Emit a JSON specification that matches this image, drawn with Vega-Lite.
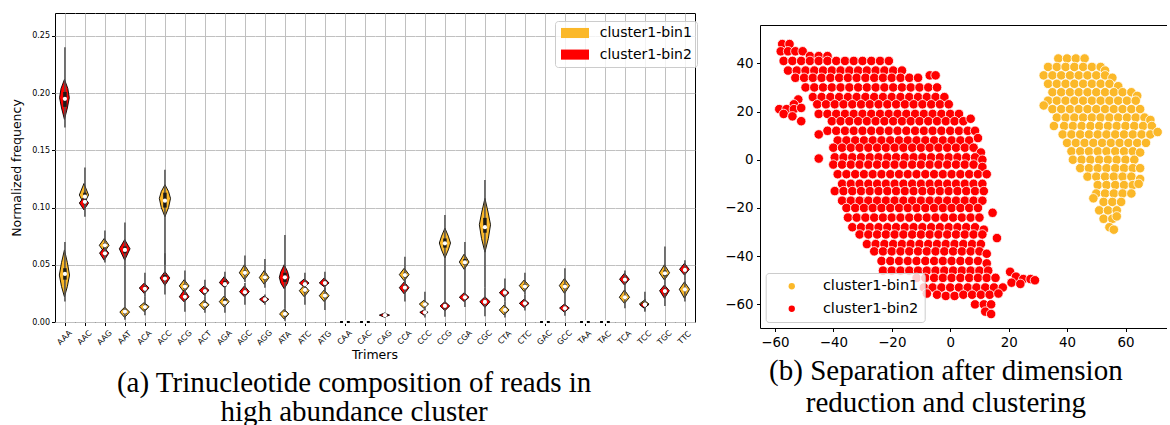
{
"$schema": "https://vega.github.io/schema/vega-lite/v6.json",
"padding": {"left": 10, "top": 13, "right": 0, "bottom": 0},
"config": {"view": {"stroke": null}, "font": "DejaVu Sans", "axis": {"labelFont": "DejaVu Sans", "titleFont": "DejaVu Sans", "domainWidth": 1, "tickWidth": 1, "gridWidth": 1}, "legend": {"labelFont": "DejaVu Sans"}},
"spacing": 26,
"resolve": {"scale": {"color": "independent"}, "legend": {"color": "independent"}},
"datasets": {
"vio": [
{"t":"AAA","c":"cluster1-bin2","v":0.177,"w":0},{"t":"AAA","c":"cluster1-bin2","v":0.187,"w":0.6},{"t":"AAA","c":"cluster1-bin2","v":0.196,"w":1.0},{"t":"AAA","c":"cluster1-bin2","v":0.204,"w":0.7},{"t":"AAA","c":"cluster1-bin2","v":0.212,"w":0},
{"t":"AAA","c":"cluster1-bin1","v":0.022,"w":0},{"t":"AAA","c":"cluster1-bin1","v":0.031,"w":0.6},{"t":"AAA","c":"cluster1-bin1","v":0.041,"w":1.05},{"t":"AAA","c":"cluster1-bin1","v":0.052,"w":0.6},{"t":"AAA","c":"cluster1-bin1","v":0.063,"w":0},
{"t":"AAC","c":"cluster1-bin1","v":0.103,"w":0},{"t":"AAC","c":"cluster1-bin1","v":0.111,"w":0.95},{"t":"AAC","c":"cluster1-bin1","v":0.121,"w":0},
{"t":"AAC","c":"cluster1-bin2","v":0.098,"w":0},{"t":"AAC","c":"cluster1-bin2","v":0.104,"w":0.95},{"t":"AAC","c":"cluster1-bin2","v":0.1092,"w":0},
{"t":"AAG","c":"cluster1-bin1","v":0.061,"w":0},{"t":"AAG","c":"cluster1-bin1","v":0.067,"w":1.0},{"t":"AAG","c":"cluster1-bin1","v":0.073,"w":0},
{"t":"AAG","c":"cluster1-bin2","v":0.054,"w":0},{"t":"AAG","c":"cluster1-bin2","v":0.0602,"w":0.95},{"t":"AAG","c":"cluster1-bin2","v":0.065,"w":0},
{"t":"AAT","c":"cluster1-bin2","v":0.054,"w":0},{"t":"AAT","c":"cluster1-bin2","v":0.064,"w":1.1},{"t":"AAT","c":"cluster1-bin2","v":0.072,"w":0},
{"t":"AAT","c":"cluster1-bin1","v":0.004,"w":0},{"t":"AAT","c":"cluster1-bin1","v":0.0087,"w":1.0},{"t":"AAT","c":"cluster1-bin1","v":0.013,"w":0},
{"t":"ACA","c":"cluster1-bin2","v":0.025,"w":0},{"t":"ACA","c":"cluster1-bin2","v":0.0297,"w":1.0},{"t":"ACA","c":"cluster1-bin2","v":0.034,"w":0},
{"t":"ACA","c":"cluster1-bin1","v":0.009,"w":0},{"t":"ACA","c":"cluster1-bin1","v":0.0134,"w":1.0},{"t":"ACA","c":"cluster1-bin1","v":0.017,"w":0},
{"t":"ACC","c":"cluster1-bin1","v":0.092,"w":0},{"t":"ACC","c":"cluster1-bin1","v":0.100,"w":0.75},{"t":"ACC","c":"cluster1-bin1","v":0.108,"w":1.15},{"t":"ACC","c":"cluster1-bin1","v":0.114,"w":0.75},{"t":"ACC","c":"cluster1-bin1","v":0.120,"w":0},
{"t":"ACC","c":"cluster1-bin2","v":0.032,"w":0},{"t":"ACC","c":"cluster1-bin2","v":0.0385,"w":1.0},{"t":"ACC","c":"cluster1-bin2","v":0.044,"w":0},
{"t":"ACG","c":"cluster1-bin1","v":0.026,"w":0},{"t":"ACG","c":"cluster1-bin1","v":0.0315,"w":1.0},{"t":"ACG","c":"cluster1-bin1","v":0.037,"w":0},
{"t":"ACG","c":"cluster1-bin2","v":0.0175,"w":0},{"t":"ACG","c":"cluster1-bin2","v":0.022,"w":1.0},{"t":"ACG","c":"cluster1-bin2","v":0.0282,"w":0},
{"t":"ACT","c":"cluster1-bin2","v":0.0236,"w":0},{"t":"ACT","c":"cluster1-bin2","v":0.0277,"w":1.0},{"t":"ACT","c":"cluster1-bin2","v":0.0315,"w":0},
{"t":"ACT","c":"cluster1-bin1","v":0.0105,"w":0},{"t":"ACT","c":"cluster1-bin1","v":0.0151,"w":1.0},{"t":"ACT","c":"cluster1-bin1","v":0.019,"w":0},
{"t":"AGA","c":"cluster1-bin2","v":0.0303,"w":0},{"t":"AGA","c":"cluster1-bin2","v":0.0344,"w":1.0},{"t":"AGA","c":"cluster1-bin2","v":0.0396,"w":0},
{"t":"AGA","c":"cluster1-bin1","v":0.013,"w":0},{"t":"AGA","c":"cluster1-bin1","v":0.0178,"w":1.0},{"t":"AGA","c":"cluster1-bin1","v":0.0227,"w":0},
{"t":"AGC","c":"cluster1-bin1","v":0.037,"w":0},{"t":"AGC","c":"cluster1-bin1","v":0.043,"w":1.05},{"t":"AGC","c":"cluster1-bin1","v":0.050,"w":0},
{"t":"AGC","c":"cluster1-bin2","v":0.022,"w":0},{"t":"AGC","c":"cluster1-bin2","v":0.0265,"w":1.0},{"t":"AGC","c":"cluster1-bin2","v":0.0315,"w":0},
{"t":"AGG","c":"cluster1-bin1","v":0.033,"w":0},{"t":"AGG","c":"cluster1-bin1","v":0.0388,"w":1.0},{"t":"AGG","c":"cluster1-bin1","v":0.045,"w":0},
{"t":"AGG","c":"cluster1-bin2","v":0.0166,"w":0},{"t":"AGG","c":"cluster1-bin2","v":0.0198,"w":0.95},{"t":"AGG","c":"cluster1-bin2","v":0.0227,"w":0},
{"t":"ATA","c":"cluster1-bin2","v":0.029,"w":0},{"t":"ATA","c":"cluster1-bin2","v":0.034,"w":0.7},{"t":"ATA","c":"cluster1-bin2","v":0.039,"w":1.0},{"t":"ATA","c":"cluster1-bin2","v":0.044,"w":0.7},{"t":"ATA","c":"cluster1-bin2","v":0.050,"w":0},
{"t":"ATA","c":"cluster1-bin1","v":0.0026,"w":0},{"t":"ATA","c":"cluster1-bin1","v":0.0071,"w":0.95},{"t":"ATA","c":"cluster1-bin1","v":0.011,"w":0},
{"t":"ATC","c":"cluster1-bin2","v":0.0306,"w":0},{"t":"ATC","c":"cluster1-bin2","v":0.034,"w":1.0},{"t":"ATC","c":"cluster1-bin2","v":0.0376,"w":0},
{"t":"ATC","c":"cluster1-bin1","v":0.022,"w":0},{"t":"ATC","c":"cluster1-bin1","v":0.0274,"w":1.0},{"t":"ATC","c":"cluster1-bin1","v":0.0321,"w":0},
{"t":"ATG","c":"cluster1-bin2","v":0.0307,"w":0},{"t":"ATG","c":"cluster1-bin2","v":0.0341,"w":1.0},{"t":"ATG","c":"cluster1-bin2","v":0.0385,"w":0},
{"t":"ATG","c":"cluster1-bin1","v":0.0178,"w":0},{"t":"ATG","c":"cluster1-bin1","v":0.023,"w":1.0},{"t":"ATG","c":"cluster1-bin1","v":0.028,"w":0},
{"t":"CAG","c":"cluster1-bin2","v":0.0042,"w":0},{"t":"CAG","c":"cluster1-bin2","v":0.006,"w":1.05},{"t":"CAG","c":"cluster1-bin2","v":0.0078,"w":0},
{"t":"CCA","c":"cluster1-bin1","v":0.036,"w":0},{"t":"CCA","c":"cluster1-bin1","v":0.0414,"w":1.0},{"t":"CCA","c":"cluster1-bin1","v":0.047,"w":0},
{"t":"CCA","c":"cluster1-bin2","v":0.0245,"w":0},{"t":"CCA","c":"cluster1-bin2","v":0.030,"w":1.0},{"t":"CCA","c":"cluster1-bin2","v":0.035,"w":0},
{"t":"CCC","c":"cluster1-bin1","v":0.012,"w":0},{"t":"CCC","c":"cluster1-bin1","v":0.0157,"w":0.95},{"t":"CCC","c":"cluster1-bin1","v":0.019,"w":0},
{"t":"CCC","c":"cluster1-bin2","v":0.006,"w":0},{"t":"CCC","c":"cluster1-bin2","v":0.0085,"w":0.85},{"t":"CCC","c":"cluster1-bin2","v":0.0105,"w":0},
{"t":"CCG","c":"cluster1-bin1","v":0.056,"w":0},{"t":"CCG","c":"cluster1-bin1","v":0.063,"w":0.7},{"t":"CCG","c":"cluster1-bin1","v":0.069,"w":1.15},{"t":"CCG","c":"cluster1-bin1","v":0.075,"w":0.7},{"t":"CCG","c":"cluster1-bin1","v":0.082,"w":0},
{"t":"CCG","c":"cluster1-bin2","v":0.0099,"w":0},{"t":"CCG","c":"cluster1-bin2","v":0.014,"w":1.0},{"t":"CCG","c":"cluster1-bin2","v":0.0178,"w":0},
{"t":"CGA","c":"cluster1-bin1","v":0.046,"w":0},{"t":"CGA","c":"cluster1-bin1","v":0.0524,"w":1.0},{"t":"CGA","c":"cluster1-bin1","v":0.0594,"w":0},
{"t":"CGA","c":"cluster1-bin2","v":0.0178,"w":0},{"t":"CGA","c":"cluster1-bin2","v":0.0216,"w":1.0},{"t":"CGA","c":"cluster1-bin2","v":0.0256,"w":0},
{"t":"CGC","c":"cluster1-bin1","v":0.061,"w":0},{"t":"CGC","c":"cluster1-bin1","v":0.073,"w":0.7},{"t":"CGC","c":"cluster1-bin1","v":0.085,"w":1.15},{"t":"CGC","c":"cluster1-bin1","v":0.096,"w":0.65},{"t":"CGC","c":"cluster1-bin1","v":0.108,"w":0},
{"t":"CGC","c":"cluster1-bin2","v":0.0128,"w":0},{"t":"CGC","c":"cluster1-bin2","v":0.0178,"w":1.05},{"t":"CGC","c":"cluster1-bin2","v":0.022,"w":0},
{"t":"CTA","c":"cluster1-bin2","v":0.0216,"w":0},{"t":"CTA","c":"cluster1-bin2","v":0.0256,"w":1.0},{"t":"CTA","c":"cluster1-bin2","v":0.0294,"w":0},
{"t":"CTA","c":"cluster1-bin1","v":0.0061,"w":0},{"t":"CTA","c":"cluster1-bin1","v":0.0105,"w":1.0},{"t":"CTA","c":"cluster1-bin1","v":0.0149,"w":0},
{"t":"CTC","c":"cluster1-bin1","v":0.0265,"w":0},{"t":"CTC","c":"cluster1-bin1","v":0.0318,"w":1.0},{"t":"CTC","c":"cluster1-bin1","v":0.0367,"w":0},
{"t":"CTC","c":"cluster1-bin2","v":0.0125,"w":0},{"t":"CTC","c":"cluster1-bin2","v":0.0163,"w":1.0},{"t":"CTC","c":"cluster1-bin2","v":0.020,"w":0},
{"t":"GCC","c":"cluster1-bin1","v":0.025,"w":0},{"t":"GCC","c":"cluster1-bin1","v":0.0318,"w":1.05},{"t":"GCC","c":"cluster1-bin1","v":0.038,"w":0},
{"t":"GCC","c":"cluster1-bin2","v":0.0085,"w":0},{"t":"GCC","c":"cluster1-bin2","v":0.0122,"w":1.0},{"t":"GCC","c":"cluster1-bin2","v":0.0157,"w":0},
{"t":"TCA","c":"cluster1-bin2","v":0.0323,"w":0},{"t":"TCA","c":"cluster1-bin2","v":0.0373,"w":1.0},{"t":"TCA","c":"cluster1-bin2","v":0.0426,"w":0},
{"t":"TCA","c":"cluster1-bin1","v":0.0163,"w":0},{"t":"TCA","c":"cluster1-bin1","v":0.0216,"w":1.05},{"t":"TCA","c":"cluster1-bin1","v":0.028,"w":0},
{"t":"TCC","c":"cluster1-bin1","v":0.012,"w":0},{"t":"TCC","c":"cluster1-bin1","v":0.0157,"w":1.0},{"t":"TCC","c":"cluster1-bin1","v":0.019,"w":0},
{"t":"TCC","c":"cluster1-bin2","v":0.0122,"w":0},{"t":"TCC","c":"cluster1-bin2","v":0.0149,"w":0.85},{"t":"TCC","c":"cluster1-bin2","v":0.0178,"w":0},
{"t":"TGC","c":"cluster1-bin1","v":0.0367,"w":0},{"t":"TGC","c":"cluster1-bin1","v":0.043,"w":1.05},{"t":"TGC","c":"cluster1-bin1","v":0.050,"w":0},
{"t":"TGC","c":"cluster1-bin2","v":0.0207,"w":0},{"t":"TGC","c":"cluster1-bin2","v":0.0274,"w":1.0},{"t":"TGC","c":"cluster1-bin2","v":0.0323,"w":0},
{"t":"TTC","c":"cluster1-bin2","v":0.041,"w":0},{"t":"TTC","c":"cluster1-bin2","v":0.046,"w":1.0},{"t":"TTC","c":"cluster1-bin2","v":0.0513,"w":0},
{"t":"TTC","c":"cluster1-bin1","v":0.0207,"w":0},{"t":"TTC","c":"cluster1-bin1","v":0.0286,"w":1.05},{"t":"TTC","c":"cluster1-bin1","v":0.035,"w":0},
{"t":"AAA","c":"cluster1-bin2","lo":0.170,"q1":0.188,"med":0.195,"q3":0.201,"hi":0.240},
{"t":"AAA","c":"cluster1-bin1","lo":0.018,"q1":0.037,"med":0.042,"q3":0.047,"hi":0.070},
{"t":"AAC","c":"cluster1-bin1","lo":0.100,"q1":0.107,"med":0.1095,"q3":0.113,"hi":0.135},
{"t":"AAC","c":"cluster1-bin2","lo":0.092,"q1":0.103,"med":0.105,"q3":0.107,"hi":0.115},
{"t":"AAG","c":"cluster1-bin1","lo":0.058,"q1":0.065,"med":0.067,"q3":0.069,"hi":0.080},
{"t":"AAG","c":"cluster1-bin2","lo":0.052,"q1":0.058,"med":0.060,"q3":0.062,"hi":0.066},
{"t":"AAT","c":"cluster1-bin2","lo":0.020,"q1":0.060,"med":0.063,"q3":0.066,"hi":0.087},
{"t":"AAT","c":"cluster1-bin1","lo":0.002,"q1":0.007,"med":0.009,"q3":0.011,"hi":0.020},
{"t":"ACA","c":"cluster1-bin2","lo":0.022,"q1":0.027,"med":0.029,"q3":0.031,"hi":0.043},
{"t":"ACA","c":"cluster1-bin1","lo":0.006,"q1":0.011,"med":0.013,"q3":0.015,"hi":0.022},
{"t":"ACC","c":"cluster1-bin1","lo":0.050,"q1":0.100,"med":0.106,"q3":0.113,"hi":0.133},
{"t":"ACC","c":"cluster1-bin2","lo":0.024,"q1":0.036,"med":0.038,"q3":0.041,"hi":0.060},
{"t":"ACG","c":"cluster1-bin1","lo":0.024,"q1":0.029,"med":0.031,"q3":0.033,"hi":0.045},
{"t":"ACG","c":"cluster1-bin2","lo":0.009,"q1":0.020,"med":0.022,"q3":0.024,"hi":0.028},
{"t":"ACT","c":"cluster1-bin2","lo":0.022,"q1":0.025,"med":0.027,"q3":0.029,"hi":0.037},
{"t":"ACT","c":"cluster1-bin1","lo":0.008,"q1":0.013,"med":0.015,"q3":0.017,"hi":0.022},
{"t":"AGA","c":"cluster1-bin2","lo":0.028,"q1":0.031,"med":0.033,"q3":0.036,"hi":0.044},
{"t":"AGA","c":"cluster1-bin1","lo":0.008,"q1":0.015,"med":0.017,"q3":0.020,"hi":0.028},
{"t":"AGC","c":"cluster1-bin1","lo":0.035,"q1":0.041,"med":0.043,"q3":0.045,"hi":0.058},
{"t":"AGC","c":"cluster1-bin2","lo":0.015,"q1":0.024,"med":0.026,"q3":0.028,"hi":0.034},
{"t":"AGG","c":"cluster1-bin1","lo":0.030,"q1":0.037,"med":0.039,"q3":0.041,"hi":0.055},
{"t":"AGG","c":"cluster1-bin2","lo":0.015,"q1":0.018,"med":0.0198,"q3":0.021,"hi":0.024},
{"t":"ATA","c":"cluster1-bin2","lo":0.012,"q1":0.035,"med":0.039,"q3":0.043,"hi":0.076},
{"t":"ATA","c":"cluster1-bin1","lo":0.001,"q1":0.005,"med":0.007,"q3":0.009,"hi":0.012},
{"t":"ATC","c":"cluster1-bin2","lo":0.028,"q1":0.032,"med":0.033,"q3":0.035,"hi":0.043},
{"t":"ATC","c":"cluster1-bin1","lo":0.015,"q1":0.026,"med":0.028,"q3":0.030,"hi":0.036},
{"t":"ATG","c":"cluster1-bin2","lo":0.028,"q1":0.032,"med":0.034,"q3":0.036,"hi":0.044},
{"t":"ATG","c":"cluster1-bin1","lo":0.0105,"q1":0.021,"med":0.023,"q3":0.025,"hi":0.030},
{"t":"CAG","c":"cluster1-bin2","lo":0.004,"q1":0.0055,"med":0.006,"q3":0.0065,"hi":0.008},
{"t":"CCA","c":"cluster1-bin1","lo":0.033,"q1":0.039,"med":0.041,"q3":0.043,"hi":0.057},
{"t":"CCA","c":"cluster1-bin2","lo":0.018,"q1":0.028,"med":0.030,"q3":0.032,"hi":0.036},
{"t":"CCC","c":"cluster1-bin1","lo":0.010,"q1":0.014,"med":0.0155,"q3":0.017,"hi":0.0265},
{"t":"CCC","c":"cluster1-bin2","lo":0.004,"q1":0.0075,"med":0.0085,"q3":0.0095,"hi":0.011},
{"t":"CCG","c":"cluster1-bin1","lo":0.020,"q1":0.065,"med":0.0688,"q3":0.073,"hi":0.0935},
{"t":"CCG","c":"cluster1-bin2","lo":0.0046,"q1":0.012,"med":0.014,"q3":0.016,"hi":0.020},
{"t":"CGA","c":"cluster1-bin1","lo":0.026,"q1":0.050,"med":0.052,"q3":0.055,"hi":0.070},
{"t":"CGA","c":"cluster1-bin2","lo":0.013,"q1":0.020,"med":0.0216,"q3":0.023,"hi":0.026},
{"t":"CGC","c":"cluster1-bin1","lo":0.030,"q1":0.078,"med":0.0828,"q3":0.091,"hi":0.124},
{"t":"CGC","c":"cluster1-bin2","lo":0.005,"q1":0.016,"med":0.0175,"q3":0.019,"hi":0.030},
{"t":"CTA","c":"cluster1-bin2","lo":0.018,"q1":0.024,"med":0.0256,"q3":0.027,"hi":0.038},
{"t":"CTA","c":"cluster1-bin1","lo":0.004,"q1":0.009,"med":0.0105,"q3":0.012,"hi":0.018},
{"t":"CTC","c":"cluster1-bin1","lo":0.024,"q1":0.029,"med":0.031,"q3":0.033,"hi":0.043},
{"t":"CTC","c":"cluster1-bin2","lo":0.010,"q1":0.015,"med":0.0163,"q3":0.018,"hi":0.024},
{"t":"GCC","c":"cluster1-bin1","lo":0.020,"q1":0.029,"med":0.031,"q3":0.033,"hi":0.047},
{"t":"GCC","c":"cluster1-bin2","lo":0.0055,"q1":0.011,"med":0.012,"q3":0.013,"hi":0.020},
{"t":"TCA","c":"cluster1-bin2","lo":0.028,"q1":0.035,"med":0.037,"q3":0.039,"hi":0.045},
{"t":"TCA","c":"cluster1-bin1","lo":0.012,"q1":0.020,"med":0.0216,"q3":0.023,"hi":0.028},
{"t":"TCC","c":"cluster1-bin1","lo":0.009,"q1":0.014,"med":0.0152,"q3":0.017,"hi":0.0265},
{"t":"TCC","c":"cluster1-bin2","lo":0.010,"q1":0.014,"med":0.0152,"q3":0.016,"hi":0.020},
{"t":"TGC","c":"cluster1-bin1","lo":0.030,"q1":0.040,"med":0.0425,"q3":0.045,"hi":0.066},
{"t":"TGC","c":"cluster1-bin2","lo":0.014,"q1":0.025,"med":0.027,"q3":0.029,"hi":0.030},
{"t":"TTC","c":"cluster1-bin2","lo":0.036,"q1":0.044,"med":0.0455,"q3":0.047,"hi":0.054},
{"t":"TTC","c":"cluster1-bin1","lo":0.018,"q1":0.027,"med":0.0285,"q3":0.030,"hi":0.036},
{"t":"CAA","f":0,"med":0},{"t":"CAC","f":0,"med":0},{"t":"GAC","f":0,"med":0},{"t":"TAA","f":0,"med":0},{"t":"TAC","f":0,"med":0}
],
"r2": [
{"x":-57.5,"y":48},{"x":-55,"y":48},
{"x":-58,"y":45},{"x":-55.5,"y":45},{"x":-53,"y":45},{"x":-50.5,"y":45},
{"x":-48,"y":43},{"x":-45,"y":43},{"x":-42,"y":43},
{"x":-57,"y":41},{"x":-54,"y":41},{"x":-51,"y":41},{"x":-48,"y":41},{"x":-45,"y":41},{"x":-42,"y":41},{"x":-39,"y":41},{"x":-36,"y":41},{"x":-33,"y":41},{"x":-30,"y":41},{"x":-27,"y":41},{"x":-24,"y":41},{"x":-21,"y":41},
{"x":-55.5,"y":37},{"x":-52.5,"y":37},{"x":-49.5,"y":37},{"x":-46.5,"y":37},{"x":-43.5,"y":37},{"x":-40.5,"y":37},{"x":-37.5,"y":37},{"x":-34.5,"y":37},{"x":-31.5,"y":37},{"x":-28.5,"y":37},{"x":-25.5,"y":37},{"x":-22.5,"y":37},{"x":-19.5,"y":37},{"x":-16.5,"y":37},{"x":-7,"y":35},{"x":-5,"y":35},
{"x":-53,"y":34},{"x":-50,"y":34},{"x":-47,"y":34},{"x":-44,"y":34},{"x":-41,"y":34},{"x":-38,"y":34},{"x":-35,"y":34},{"x":-32,"y":34},{"x":-29,"y":34},{"x":-26,"y":34},{"x":-23,"y":34},{"x":-20,"y":34},{"x":-17,"y":34},{"x":-14,"y":34},{"x":-11,"y":34},
{"x":-49.5,"y":30},{"x":-46.5,"y":30},{"x":-43.5,"y":30},{"x":-40.5,"y":30},{"x":-37.5,"y":30},{"x":-34.5,"y":30},{"x":-31.5,"y":30},{"x":-28.5,"y":30},{"x":-25.5,"y":30},{"x":-22.5,"y":30},{"x":-19.5,"y":30},{"x":-16.5,"y":30},{"x":-13.5,"y":30},{"x":-10.5,"y":30},{"x":-7.5,"y":30},{"x":-4.5,"y":30},
{"x":-52,"y":25},{"x":-47,"y":26},{"x":-44,"y":26},{"x":-41,"y":26},{"x":-38,"y":26},{"x":-35,"y":26},{"x":-32,"y":26},{"x":-29,"y":26},{"x":-26,"y":26},{"x":-23,"y":26},{"x":-20,"y":26},{"x":-17,"y":26},{"x":-14,"y":26},{"x":-11,"y":26},{"x":-8,"y":26},{"x":-5,"y":26},{"x":-2,"y":26},
{"x":-53.5,"y":23},{"x":-45.5,"y":23},{"x":-42.5,"y":23},{"x":-39.5,"y":23},{"x":-36.5,"y":23},{"x":-33.5,"y":23},{"x":-30.5,"y":23},{"x":-27.5,"y":23},{"x":-24.5,"y":23},{"x":-21.5,"y":23},{"x":-18.5,"y":23},{"x":-15.5,"y":23},{"x":-12.5,"y":23},{"x":-9.5,"y":23},{"x":-6.5,"y":23},{"x":-3.5,"y":23},{"x":-0.5,"y":23},
{"x":-58.5,"y":21},{"x":-56,"y":21},{"x":-53.5,"y":21},{"x":-51,"y":21.5},
{"x":-57,"y":19},{"x":-54,"y":18},{"x":-45,"y":19},{"x":-42,"y":19},{"x":-39,"y":19},{"x":-36,"y":19},{"x":-33,"y":19},{"x":-30,"y":19},{"x":-27,"y":19},{"x":-24,"y":19},{"x":-21,"y":19},{"x":-18,"y":19},{"x":-15,"y":19},{"x":-12,"y":19},{"x":-9,"y":19},{"x":-6,"y":19},{"x":-3,"y":19},{"x":0,"y":19},{"x":3,"y":19},
{"x":-51,"y":16},{"x":-40.5,"y":16},{"x":-37.5,"y":16},{"x":-34.5,"y":16},{"x":-31.5,"y":16},{"x":-28.5,"y":16},{"x":-25.5,"y":16},{"x":-22.5,"y":16},{"x":-19.5,"y":16},{"x":-16.5,"y":16},{"x":-13.5,"y":16},{"x":-10.5,"y":16},{"x":-7.5,"y":16},{"x":-4.5,"y":16},{"x":-1.5,"y":16},{"x":1.5,"y":16},{"x":4.5,"y":16},{"x":7,"y":17},
{"x":-42,"y":12},{"x":-39,"y":12},{"x":-36,"y":12},{"x":-33,"y":12},{"x":-30,"y":12},{"x":-27,"y":12},{"x":-24,"y":12},{"x":-21,"y":12},{"x":-18,"y":12},{"x":-15,"y":12},{"x":-12,"y":12},{"x":-9,"y":12},{"x":-6,"y":12},{"x":-3,"y":12},{"x":0,"y":12},{"x":3,"y":12},{"x":6,"y":12},{"x":8.5,"y":12},
{"x":-45,"y":10.5},
{"x":-38.5,"y":8},{"x":-35.5,"y":8},{"x":-32.5,"y":8},{"x":-29.5,"y":8},{"x":-26.5,"y":8},{"x":-23.5,"y":8},{"x":-20.5,"y":8},{"x":-17.5,"y":8},{"x":-14.5,"y":8},{"x":-11.5,"y":8},{"x":-8.5,"y":8},{"x":-5.5,"y":8},{"x":-2.5,"y":8},{"x":0.5,"y":8},{"x":3.5,"y":8},{"x":6.5,"y":8},{"x":9.5,"y":9},
{"x":-40,"y":5},{"x":-37,"y":5},{"x":-34,"y":5},{"x":-31,"y":5},{"x":-28,"y":5},{"x":-25,"y":5},{"x":-22,"y":5},{"x":-19,"y":5},{"x":-16,"y":5},{"x":-13,"y":5},{"x":-10,"y":5},{"x":-7,"y":5},{"x":-4,"y":5},{"x":-1,"y":5},{"x":2,"y":5},{"x":5,"y":5},{"x":8,"y":5},{"x":10.5,"y":3},
{"x":-45,"y":0.5},{"x":-39.5,"y":1},{"x":-36.5,"y":1},{"x":-33.5,"y":1},{"x":-30.5,"y":1},{"x":-27.5,"y":1},{"x":-24.5,"y":1},{"x":-21.5,"y":1},{"x":-18.5,"y":1},{"x":-15.5,"y":1},{"x":-12.5,"y":1},{"x":-9.5,"y":1},{"x":-6.5,"y":1},{"x":-3.5,"y":1},{"x":-0.5,"y":1},{"x":2.5,"y":1},{"x":5.5,"y":1},{"x":8.5,"y":1},{"x":11,"y":0},
{"x":-40,"y":-2},{"x":-37,"y":-2},{"x":-34,"y":-2},{"x":-31,"y":-2},{"x":-28,"y":-2},{"x":-25,"y":-2},{"x":-22,"y":-2},{"x":-19,"y":-2},{"x":-16,"y":-2},{"x":-13,"y":-2},{"x":-10,"y":-2},{"x":-7,"y":-2},{"x":-4,"y":-2},{"x":-1,"y":-2},{"x":2,"y":-2},{"x":5,"y":-2},{"x":8,"y":-2},{"x":11,"y":-3},
{"x":-38.5,"y":-6},{"x":-35.5,"y":-6},{"x":-32.5,"y":-6},{"x":-29.5,"y":-6},{"x":-26.5,"y":-6},{"x":-23.5,"y":-6},{"x":-20.5,"y":-6},{"x":-17.5,"y":-6},{"x":-14.5,"y":-6},{"x":-11.5,"y":-6},{"x":-8.5,"y":-6},{"x":-5.5,"y":-6},{"x":-2.5,"y":-6},{"x":0.5,"y":-6},{"x":3.5,"y":-6},{"x":6.5,"y":-6},{"x":9.5,"y":-6},{"x":12.5,"y":-6},
{"x":-37,"y":-10},{"x":-34,"y":-10},{"x":-31,"y":-10},{"x":-28,"y":-10},{"x":-25,"y":-10},{"x":-22,"y":-10},{"x":-19,"y":-10},{"x":-16,"y":-10},{"x":-13,"y":-10},{"x":-10,"y":-10},{"x":-7,"y":-10},{"x":-4,"y":-10},{"x":-1,"y":-10},{"x":2,"y":-10},{"x":5,"y":-10},{"x":8,"y":-10},{"x":11,"y":-10},
{"x":-39.5,"y":-13},{"x":-36.5,"y":-13},{"x":-33.5,"y":-13},{"x":-30.5,"y":-13},{"x":-27.5,"y":-13},{"x":-24.5,"y":-13},{"x":-21.5,"y":-13},{"x":-18.5,"y":-13},{"x":-15.5,"y":-13},{"x":-12.5,"y":-13},{"x":-9.5,"y":-13},{"x":-6.5,"y":-13},{"x":-3.5,"y":-13},{"x":-0.5,"y":-13},{"x":2.5,"y":-13},{"x":5.5,"y":-13},{"x":8.5,"y":-13},{"x":11.5,"y":-13},
{"x":-37,"y":-17},{"x":-34,"y":-17},{"x":-31,"y":-17},{"x":-28,"y":-17},{"x":-25,"y":-17},{"x":-22,"y":-17},{"x":-19,"y":-17},{"x":-16,"y":-17},{"x":-13,"y":-17},{"x":-10,"y":-17},{"x":-7,"y":-17},{"x":-4,"y":-17},{"x":-1,"y":-17},{"x":2,"y":-17},{"x":5,"y":-17},{"x":8,"y":-17},{"x":11,"y":-17},
{"x":-35.5,"y":-20},{"x":-32.5,"y":-20},{"x":-29.5,"y":-20},{"x":-26.5,"y":-20},{"x":-23.5,"y":-20},{"x":-20.5,"y":-20},{"x":-17.5,"y":-20},{"x":-14.5,"y":-20},{"x":-11.5,"y":-20},{"x":-8.5,"y":-20},{"x":-5.5,"y":-20},{"x":-2.5,"y":-20},{"x":0.5,"y":-20},{"x":3.5,"y":-20},{"x":6.5,"y":-20},{"x":9.5,"y":-20},{"x":14.5,"y":-22},
{"x":-35,"y":-24},{"x":-32,"y":-24},{"x":-29,"y":-24},{"x":-26,"y":-24},{"x":-23,"y":-24},{"x":-20,"y":-24},{"x":-17,"y":-24},{"x":-14,"y":-24},{"x":-11,"y":-24},{"x":-8,"y":-24},{"x":-5,"y":-24},{"x":-2,"y":-24},{"x":1,"y":-24},{"x":4,"y":-24},{"x":7,"y":-24},{"x":10,"y":-24},
{"x":-33.5,"y":-28},{"x":-30.5,"y":-28},{"x":-27.5,"y":-28},{"x":-24.5,"y":-28},{"x":-21.5,"y":-28},{"x":-18.5,"y":-28},{"x":-15.5,"y":-28},{"x":-12.5,"y":-28},{"x":-9.5,"y":-28},{"x":-6.5,"y":-28},{"x":-3.5,"y":-28},{"x":-0.5,"y":-28},{"x":2.5,"y":-28},{"x":5.5,"y":-28},{"x":8.5,"y":-28},{"x":11.5,"y":-29},
{"x":-31,"y":-31},{"x":-28,"y":-31},{"x":-25,"y":-31},{"x":-22,"y":-31},{"x":-19,"y":-31},{"x":-16,"y":-31},{"x":-13,"y":-31},{"x":-10,"y":-31},{"x":-7,"y":-31},{"x":-4,"y":-31},{"x":-1,"y":-31},{"x":2,"y":-31},{"x":5,"y":-31},{"x":8,"y":-31},{"x":11,"y":-31},{"x":16,"y":-32.5},
{"x":-28.5,"y":-35},{"x":-25.5,"y":-35},{"x":-22.5,"y":-35},{"x":-19.5,"y":-35},{"x":-16.5,"y":-35},{"x":-13.5,"y":-35},{"x":-10.5,"y":-35},{"x":-7.5,"y":-35},{"x":-4.5,"y":-35},{"x":-1.5,"y":-35},{"x":1.5,"y":-35},{"x":4.5,"y":-35},{"x":7.5,"y":-35},{"x":10.5,"y":-35},
{"x":-26,"y":-38},{"x":-23,"y":-38},{"x":-20,"y":-38},{"x":-17,"y":-38},{"x":-14,"y":-38},{"x":-11,"y":-38},{"x":-8,"y":-38},{"x":-5,"y":-38},{"x":-2,"y":-38},{"x":1,"y":-38},{"x":4,"y":-38},{"x":7,"y":-38},{"x":10,"y":-38},{"x":12.5,"y":-39},
{"x":-23.5,"y":-42},{"x":-20.5,"y":-42},{"x":-17.5,"y":-42},{"x":-14.5,"y":-42},{"x":-11.5,"y":-42},{"x":-8.5,"y":-42},{"x":-5.5,"y":-42},{"x":-2.5,"y":-42},{"x":0.5,"y":-42},{"x":3.5,"y":-42},{"x":6.5,"y":-42},{"x":9.5,"y":-42},{"x":12.5,"y":-43},
{"x":-23,"y":-46},{"x":-20,"y":-46},{"x":-17,"y":-46},{"x":-14,"y":-46},{"x":-11,"y":-46},{"x":-8,"y":-46},{"x":-5,"y":-46},{"x":-2,"y":-46},{"x":1,"y":-46},{"x":4,"y":-46},{"x":7,"y":-46},{"x":10,"y":-46},{"x":13,"y":-46},{"x":20.5,"y":-46.5},
{"x":-11.5,"y":-49},{"x":-8.5,"y":-49},{"x":-5.5,"y":-49},{"x":-2.5,"y":-49},{"x":0.5,"y":-49},{"x":3.5,"y":-49},{"x":6.5,"y":-49},{"x":9.5,"y":-49},{"x":12.5,"y":-49},{"x":15.5,"y":-49},{"x":22.5,"y":-48.5},{"x":25,"y":-49.5},{"x":27.5,"y":-49.5},
{"x":21,"y":-51},{"x":24,"y":-51.5},{"x":29,"y":-50},
{"x":-9,"y":-53},{"x":-6,"y":-53},{"x":-3,"y":-53},{"x":0,"y":-53},{"x":3,"y":-53},{"x":6,"y":-53},{"x":9,"y":-53},{"x":12,"y":-53},{"x":15,"y":-53},{"x":18,"y":-53},
{"x":-8,"y":-55.5},{"x":-4.5,"y":-56},{"x":-1.5,"y":-56.5},{"x":1.5,"y":-56.5},{"x":4.5,"y":-56},{"x":7.5,"y":-56},{"x":10.5,"y":-56},{"x":13.5,"y":-56},{"x":16.5,"y":-55.5},
{"x":8.5,"y":-60},{"x":11.5,"y":-60},{"x":14,"y":-60},
{"x":12,"y":-63},{"x":14,"y":-64}
],
"r1": [
{"x":37,"y":42},{"x":40,"y":42},{"x":43,"y":42},{"x":46,"y":42},
{"x":33.5,"y":38.5},{"x":36.5,"y":38.5},{"x":39.5,"y":38.5},{"x":42.5,"y":38.5},{"x":45.5,"y":38.5},{"x":48.5,"y":38.5},{"x":51.5,"y":38.5},{"x":53,"y":37},
{"x":32,"y":35},{"x":35,"y":35},{"x":38,"y":35},{"x":41,"y":35},{"x":44,"y":35},{"x":47,"y":35},{"x":50,"y":35},{"x":53,"y":35},{"x":55.5,"y":34},
{"x":33.5,"y":31.5},{"x":36.5,"y":31.5},{"x":39.5,"y":31.5},{"x":42.5,"y":31.5},{"x":45.5,"y":31.5},{"x":48.5,"y":31.5},{"x":51.5,"y":31.5},{"x":54.5,"y":31.5},{"x":57.5,"y":30.5},
{"x":35,"y":28},{"x":38,"y":28},{"x":41,"y":28},{"x":44,"y":28},{"x":47,"y":28},{"x":50,"y":28},{"x":53,"y":28},{"x":56,"y":28},{"x":59,"y":28},{"x":62,"y":28},{"x":64,"y":26.5},
{"x":33.5,"y":24.5},{"x":36.5,"y":24.5},{"x":39.5,"y":24.5},{"x":42.5,"y":24.5},{"x":45.5,"y":24.5},{"x":48.5,"y":24.5},{"x":51.5,"y":24.5},{"x":54.5,"y":24.5},{"x":57.5,"y":24.5},{"x":60.5,"y":24.5},{"x":63.5,"y":24.5},{"x":32,"y":22.5},
{"x":35,"y":21},{"x":38,"y":21},{"x":41,"y":21},{"x":44,"y":21},{"x":47,"y":21},{"x":50,"y":21},{"x":53,"y":21},{"x":56,"y":21},{"x":59,"y":21},{"x":62,"y":21},{"x":65,"y":21},
{"x":36.5,"y":17.5},{"x":39.5,"y":17.5},{"x":42.5,"y":17.5},{"x":45.5,"y":17.5},{"x":48.5,"y":17.5},{"x":51.5,"y":17.5},{"x":54.5,"y":17.5},{"x":57.5,"y":17.5},{"x":60.5,"y":17.5},{"x":63.5,"y":17.5},{"x":66.5,"y":17.5},{"x":68.5,"y":16.5},
{"x":35.5,"y":14},{"x":39,"y":14},{"x":42,"y":14},{"x":45,"y":14},{"x":48,"y":14},{"x":51,"y":14},{"x":54,"y":14},{"x":57,"y":14},{"x":60,"y":14},{"x":63,"y":14},{"x":66,"y":14},{"x":69,"y":14},
{"x":38.5,"y":10.5},{"x":41.5,"y":10.5},{"x":44.5,"y":10.5},{"x":47.5,"y":10.5},{"x":50.5,"y":10.5},{"x":53.5,"y":10.5},{"x":56.5,"y":10.5},{"x":59.5,"y":10.5},{"x":62.5,"y":10.5},{"x":65.5,"y":10.5},{"x":68.5,"y":10.5},{"x":71,"y":11.5},
{"x":40,"y":7},{"x":43,"y":7},{"x":46,"y":7},{"x":49,"y":7},{"x":52,"y":7},{"x":55,"y":7},{"x":58,"y":7},{"x":61,"y":7},{"x":64,"y":7},{"x":67,"y":7},
{"x":41.5,"y":3.5},{"x":44.5,"y":3.5},{"x":47.5,"y":3.5},{"x":50.5,"y":3.5},{"x":53.5,"y":3.5},{"x":56.5,"y":3.5},{"x":59.5,"y":3.5},{"x":62.5,"y":3.5},{"x":65,"y":3},
{"x":42,"y":0},{"x":45,"y":0},{"x":48,"y":0},{"x":51,"y":0},{"x":54,"y":0},{"x":57,"y":0},{"x":60,"y":0},{"x":63,"y":0},
{"x":44.5,"y":-3.5},{"x":47.5,"y":-3.5},{"x":50.5,"y":-3.5},{"x":53.5,"y":-3.5},{"x":56.5,"y":-3.5},{"x":59.5,"y":-3.5},{"x":62.5,"y":-3.5},{"x":65,"y":-3.5},
{"x":47,"y":-7},{"x":50,"y":-7},{"x":53,"y":-7},{"x":56,"y":-7},{"x":59,"y":-7},{"x":62,"y":-7},{"x":65,"y":-8},
{"x":50.5,"y":-10.5},{"x":53.5,"y":-10.5},{"x":56.5,"y":-10.5},{"x":59.5,"y":-10.5},{"x":62.5,"y":-10.5},{"x":64.5,"y":-10},
{"x":50,"y":-14},{"x":53,"y":-14},{"x":56,"y":-14},{"x":59,"y":-14},{"x":62,"y":-14},
{"x":49,"y":-16},{"x":52.5,"y":-17.5},{"x":55.5,"y":-17.5},{"x":58.5,"y":-17.5},
{"x":51,"y":-21},{"x":54,"y":-21},{"x":57,"y":-21},
{"x":52.5,"y":-24.5},{"x":55.5,"y":-24.5},{"x":57,"y":-23.5},
{"x":54.5,"y":-28},{"x":56,"y":-29}
]
},
"hconcat": [
{
"data": {"name": "vio"},
"title": {"text": ["(a) Trinucleotide composition of reads in", "high abundance cluster"], "orient": "bottom", "anchor": "middle", "frame": "bounds", "font": "Liberation Serif", "fontSize": 29, "fontWeight": "normal", "color": "black", "lineHeight": 29, "offset": 7},
"spacing": 0,
"bounds": "flush",
"facet": {"column": {"field": "t", "type": "nominal", "title": "Trimers",
  "sort": ["AAA","AAC","AAG","AAT","ACA","ACC","ACG","ACT","AGA","AGC","AGG","ATA","ATC","ATG","CAA","CAC","CAG","CCA","CCC","CCG","CGA","CGC","CTA","CTC","GAC","GCC","TAA","TAC","TCA","TCC","TGC","TTC"],
  "header": {"labelOrient": "bottom", "labelAngle": -45, "labelAlign": "center", "labelBaseline": "middle", "labelFontSize": 8, "labelFont": "DejaVu Sans", "labelColor": "black", "labelPadding": 12, "titleOrient": "bottom", "titleFontSize": 12.5, "titleFont": "DejaVu Sans", "titleFontWeight": "normal", "titleColor": "black", "titlePadding": -9}}},
"spec": {
  "width": 19.85, "height": 309,
  "resolve": {"axis": {"x": "independent", "y": "independent"}},
  "layer": [
    {"transform": [{"filter": "isValid(datum.w)"}],
     "mark": {"type": "area", "orient": "horizontal", "stroke": "black", "strokeWidth": 0.9},
     "encoding": {
       "y": {"field": "v", "type": "quantitative", "scale": {"domain": [0, 0.27], "nice": false, "zero": false},
             "axis": {"values": [0, 0.05, 0.1, 0.15, 0.2, 0.25], "format": ".2f", "labelFontSize": 8, "labelColor": "black", "labelPadding": 2, "tickSize": 3.5, "tickColor": "black", "grid": true, "gridColor": "#c0c0c0", "domain": true, "domainColor": "black", "title": "Normalized frequency", "titleFontSize": 12.5, "titleFontWeight": "normal", "titleColor": "black", "titlePadding": 8}},
       "x": {"field": "w", "type": "quantitative", "stack": "center", "impute": null, "scale": {"domain": [-0.445, 1.595], "nice": false, "zero": false},
             "axis": {"values": [0.575], "labels": false, "ticks": true, "tickSize": 3.5, "tickColor": "black", "grid": true, "gridColor": "#c0c0c0", "domain": true, "domainColor": "black", "title": null}},
       "color": {"field": "c", "type": "nominal", "scale": {"domain": ["cluster1-bin1", "cluster1-bin2"], "range": ["#fbb829", "#ff0000"]},
             "legend": {"title": null, "orient": "none", "legendX": 500, "legendY": 8, "symbolType": "M-2,-0.72H2V0.72H-2Z", "symbolSize": 196, "symbolStrokeWidth": 0, "symbolOffset": 8, "labelFontSize": 14, "labelColor": "black", "labelOffset": 17.7, "padding": 5, "rowPadding": 7.6, "fillColor": "rgba(255,255,255,0.8)", "strokeColor": "#cccccc", "cornerRadius": 3}}
     }},
    {"transform": [{"filter": "isValid(datum.lo)"}],
     "mark": {"type": "rule", "color": "#505050", "strokeWidth": 1.5},
     "encoding": {
       "x": {"datum": 0.575, "type": "quantitative", "axis": {"orient": "top", "labels": false, "ticks": false, "grid": false, "domain": true, "domainColor": "black", "title": null}},
       "y": {"field": "lo", "type": "quantitative", "axis": {"orient": "right", "labels": false, "ticks": false, "grid": false, "domain": true, "domainColor": "black", "title": null}},
       "y2": {"field": "hi"}
     }},
    {"transform": [{"filter": "isValid(datum.q1)"}],
     "mark": {"type": "rule", "color": "#1a1a1a", "strokeWidth": 3.5},
     "encoding": {
       "x": {"datum": 0.575, "type": "quantitative", "axis": null},
       "y": {"field": "q1", "type": "quantitative", "axis": null},
       "y2": {"field": "q3"}
     }},
    {"transform": [{"filter": "isValid(datum.f)"}],
     "mark": {"type": "rule", "color": "black", "strokeWidth": 2},
     "encoding": {
       "x": {"datum": 0.075, "type": "quantitative", "axis": null},
       "x2": {"datum": 1.075},
       "y": {"field": "f", "type": "quantitative", "axis": null}
     }},
    {"transform": [{"filter": "isValid(datum.med)"}],
     "mark": {"type": "circle", "color": "white", "size": 18, "opacity": 1},
     "encoding": {
       "x": {"datum": 0.575, "type": "quantitative", "axis": null},
       "y": {"field": "med", "type": "quantitative", "axis": null}
     }}
  ]
}
},
{
"width": 407, "height": 315,
"title": {"text": ["(b) Separation after dimension", "reduction and clustering"], "orient": "bottom", "anchor": "middle", "frame": "bounds", "font": "Liberation Serif", "fontSize": 29, "fontWeight": "normal", "color": "black", "lineHeight": 32, "offset": 9},
"resolve": {"axis": {"x": "independent", "y": "independent"}},
"layer": [
  {"data": {"name": "r2"},
   "mark": {"type": "circle", "size": 90, "stroke": "white", "strokeWidth": 0.8, "opacity": 1},
   "encoding": {
     "x": {"field": "x", "type": "quantitative", "scale": {"domain": [-65.1, 74.2], "nice": false, "zero": false},
           "axis": {"values": [-60, -40, -20, 0, 20, 40, 60], "labelFontSize": 13.4, "labelColor": "black", "labelPadding": 3.5, "tickSize": 3.5, "tickColor": "black", "grid": false, "domain": true, "domainColor": "black", "title": null}},
     "y": {"field": "y", "type": "quantitative", "scale": {"domain": [-69.8, 55.9], "range": [315, 12], "nice": false, "zero": false},
           "axis": {"values": [-60, -40, -20, 0, 20, 40], "labelFontSize": 13.4, "labelColor": "black", "labelPadding": 3.5, "tickSize": 3.5, "tickColor": "black", "grid": false, "domain": true, "domainColor": "black", "title": null}},
     "color": {"datum": "cluster1-bin2", "type": "nominal", "scale": {"domain": ["cluster1-bin1", "cluster1-bin2"], "range": ["#fbb829", "#ff0000"]},
           "legend": {"title": null, "orient": "none", "legendX": 5.7, "legendY": 260, "symbolType": "circle", "symbolSize": 40, "symbolStrokeWidth": 0, "symbolOffset": 12.8, "labelFontSize": 14.5, "labelColor": "black", "labelOffset": 23.9, "padding": 6, "rowPadding": 7.5, "fillColor": "rgba(255,255,255,0.8)", "strokeColor": "#cccccc", "cornerRadius": 3}}
   }},
  {"data": {"name": "r1"},
   "mark": {"type": "circle", "size": 90, "stroke": "white", "strokeWidth": 0.8, "opacity": 1},
   "encoding": {
     "x": {"field": "x", "type": "quantitative", "axis": {"orient": "top", "offset": -12, "labels": false, "ticks": false, "grid": false, "domain": true, "domainColor": "black", "title": null}},
     "y": {"field": "y", "type": "quantitative", "axis": {"orient": "right", "labels": false, "ticks": false, "grid": false, "domain": true, "domainColor": "black", "title": null}},
     "color": {"datum": "cluster1-bin1", "type": "nominal"}
   }}
]
}
]
}
